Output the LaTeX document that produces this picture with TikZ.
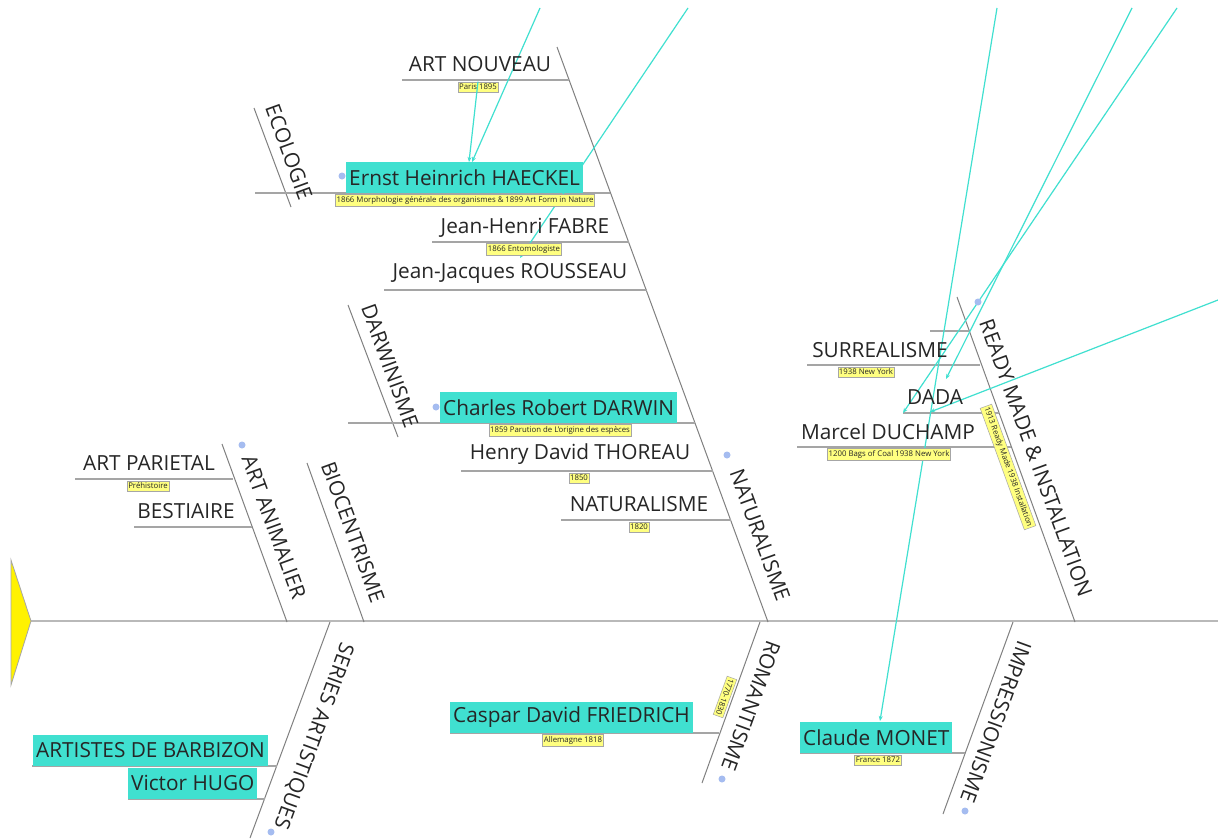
\documentclass[tikz,border=0pt]{standalone}
\usepackage{fontspec}
\setmainfont{Open Sans}
\usetikzlibrary{arrows.meta}
\definecolor{cyanbox}{RGB}{64,224,208}
\definecolor{linecyan}{RGB}{64,224,208}
\definecolor{bonec}{RGB}{128,128,128}
\definecolor{subc}{RGB}{165,165,165}
\definecolor{ylw}{RGB}{255,255,128}
\definecolor{dotblue}{RGB}{165,188,240}
\begin{document}
\begin{tikzpicture}[x=1pt,y=-1pt,
  lbl/.style={font=\fontsize{20.8}{23}\selectfont, inner sep=0pt, text=black!85},
  bonetxt/.style={lbl},
  boxed/.style={lbl, fill=cyanbox, inner xsep=3pt, inner ysep=0pt, minimum height=31pt, anchor=south west},
  note/.style={font=\fontsize{7.8}{8}\selectfont, fill=ylw, draw=gray!70, inner xsep=1.2pt, inner ysep=2.2pt, line width=0.5pt, text=black!85},
  bonel/.style={draw=bonec, line width=1pt},
  subl/.style={draw=subc, line width=1.3pt},
  spine/.style={draw=gray!55, line width=2.2pt},
  rel/.style={draw=linecyan, line width=1.2pt, -{Stealth[length=5pt,width=4pt]}},
  tog/.style={circle, fill=dotblue, minimum size=7pt, inner sep=0pt},
]
\useasboundingbox (0,0) rectangle (1218,838);
\fill[white] (0,0) rectangle (1218,838);

% ---------- relation connectors end points ----------
\coordinate (r1s) at (540,8);   \coordinate (r1e) at (472,162);
\coordinate (r3s) at (688,8);   \coordinate (r3e) at (520,258);
\coordinate (r4s) at (997,8);   \coordinate (r4e) at (880,721);
\coordinate (r5s) at (1132,8);  \coordinate (r5e) at (946,379);
\coordinate (r6s) at (1177,8);  \coordinate (r6e) at (903,413);
\coordinate (r7s) at (1218,300);\coordinate (r7e) at (930,412);

% ---------- spine and head ----------
\coordinate (sp0) at (31,621); \coordinate (sp1) at (1218,621);
\draw[spine] (sp0) -- (sp1);
\filldraw[fill=yellow, draw=gray!70, line width=0.8pt] (11,560) -- (sp0) -- (11,685) -- cycle;

% ---------- bones ----------
\coordinate (aa0) at (222,444);  \coordinate (aa1) at (287,622);
\coordinate (bi0) at (307,463);  \coordinate (bi1) at (364,622);
\coordinate (na0) at (557,47);   \coordinate (na1) at (768,622);
\coordinate (ec0) at (254,108);  \coordinate (ec1) at (291,207);
\coordinate (da0) at (348,305);  \coordinate (da1) at (398,437);
\coordinate (rm0) at (957,297);  \coordinate (rm1) at (1075,622);
\coordinate (se0) at (330,622);  \coordinate (se1) at (250,838);
\coordinate (ro0) at (760,622);  \coordinate (ro1) at (702,783);
\coordinate (im0) at (1013,622); \coordinate (im1) at (943,814);
\foreach \a/\b in {aa0/aa1,bi0/bi1,na0/na1,ec0/ec1,da0/da1,rm0/rm1,se0/se1,ro0/ro1,im0/im1}
  \draw[bonel] (\a) -- (\b);

% ---------- horizontal sub lines ----------
\draw[subl] (75,479) -- (233,479);
\draw[subl] (134,527) -- (252,527);
\draw[subl] (402,80) -- (569,80);
\draw[subl] (255,193) -- (610,193);
\draw[subl] (432,242) -- (629,242);
\draw[subl] (384,290) -- (647,290);
\draw[subl] (348,423) -- (695,423);
\draw[subl] (461,471) -- (713,471);
\draw[subl] (561,520) -- (731,520);
\draw[subl] (930,331) -- (969,331);
\draw[subl] (807,365) -- (980,365);
\draw[subl] (903,413) -- (999,413);
\draw[subl] (797,447) -- (1011,447);
\draw[subl] (32,766) -- (277,766);
\draw[subl] (128,799) -- (265,799);
\draw[subl] (450,733) -- (719,733);
\draw[subl] (800,753) -- (965,753);

% ---------- relation lines ----------
\draw[rel] (r1s) -- (r1e);
\draw[rel] (r3s) -- (r3e);
\draw[rel] (r4s) -- (r4e);
\draw[rel] (r5s) -- (r5e);
\draw[rel] (r6s) -- (r6e);
\draw[rel] (r7s) -- (r7e);

% ---------- bone labels ----------
\node[bonetxt, rotate=-70] (tAA) at (274,527) {ART ANIMALIER};
\node[bonetxt, rotate=-70] (tBI) at (353,532) {BIOCENTRISME};
\node[bonetxt, rotate=-70] (tNA) at (760,535) {NATURALISME};
\node[bonetxt, rotate=-70] (tEC) at (289,152) {ECOLOGIE};
\node[bonetxt, rotate=-70] (tDA) at (390,366) {DARWINISME};
\node[bonetxt, rotate=-70] (tRM) at (1036,458) {READY MADE \& INSTALLATION};
\node[bonetxt, rotate=-110] (tSE) at (313,736) {SERIES ARTISTIQUES};
\node[bonetxt, rotate=-110] (tRO) at (751,706) {ROMANTISME};
\node[bonetxt, rotate=-110] (tIM) at (996,722) {IMPRESSIONISME};

% ---------- topic labels ----------
\node[lbl] (parietal) at (149,463) {ART PARIETAL};
\node[note] (nparietal) at (148,486) {Préhistoire};
\node[lbl] (bestiaire) at (186,511) {BESTIAIRE};
\node[lbl] (nouveau) at (480,64) {ART NOUVEAU};
\node[boxed] (haeckel) at (346,193) {Ernst Heinrich HAECKEL};
\node[note] (nhaeckel) at (465,200) {1866 Morphologie générale des organismes \& 1899 Art Form in Nature};
\node[lbl] (fabre) at (525,228) {Jean-Henri FABRE};
\node[note] (nfabre) at (524,249) {1866 Entomologiste};
\node[lbl] (rousseau) at (510,273) {Jean-Jacques ROUSSEAU};
\node[boxed] (darwin) at (440,423) {Charles Robert DARWIN};
\node[note] (ndarwin) at (560,430) {1859 Parution de L'origine des espèces};
\node[lbl] (thoreau) at (580,454) {Henry David THOREAU};
\node[note] (nthoreau) at (579,478) {1850};
\node[lbl] (natchild) at (639,504) {NATURALISME};
\node[note] (nnatchild) at (639,527) {1820};
\node[lbl] (surreal) at (880,350) {SURREALISME};
\node[note] (nsurreal) at (866,372) {1938 New York};
\node[lbl] (dada) at (935,397) {DADA};
\node[lbl] (duchamp) at (888,432) {Marcel DUCHAMP};
\node[note] (nduchamp) at (889,454) {1200 Bags of Coal 1938 New York};
\node[note, rotate=-70] (nrm) at (1008,467) {1913 Ready Made 1938 Installation};
\node[boxed] (barbizon) at (33,766) {ARTISTES DE BARBIZON};
\node[boxed] (hugo) at (128,799) {Victor HUGO};
\node[boxed] (friedrich) at (450,733) {Caspar David FRIEDRICH};
\node[note] (nfriedrich) at (573,740) {Allemagne 1818};
\node[note, rotate=-110] (nro) at (725,697) {1770-1830};
\node[boxed] (monet) at (800,753) {Claude MONET};
\node[note] (nmonet) at (878,760) {France 1872};

% Paris note and its connector
\node[note] (nnouveau) at (478,87) {Paris 1895};
\draw[rel] (nnouveau.north) -- (469,162);

% ---------- collapse toggles ----------
\foreach \p/\n in {{(342,176)}/g1,{(436,407)}/g2,{(242,445)}/g3,{(727,455)}/g4,{(978,302)}/g5,{(722,779)}/g6,{(965,811)}/g7,{(271,832)}/g8}
  \node[tog] (\n) at \p {};
\end{tikzpicture}
\end{document}
